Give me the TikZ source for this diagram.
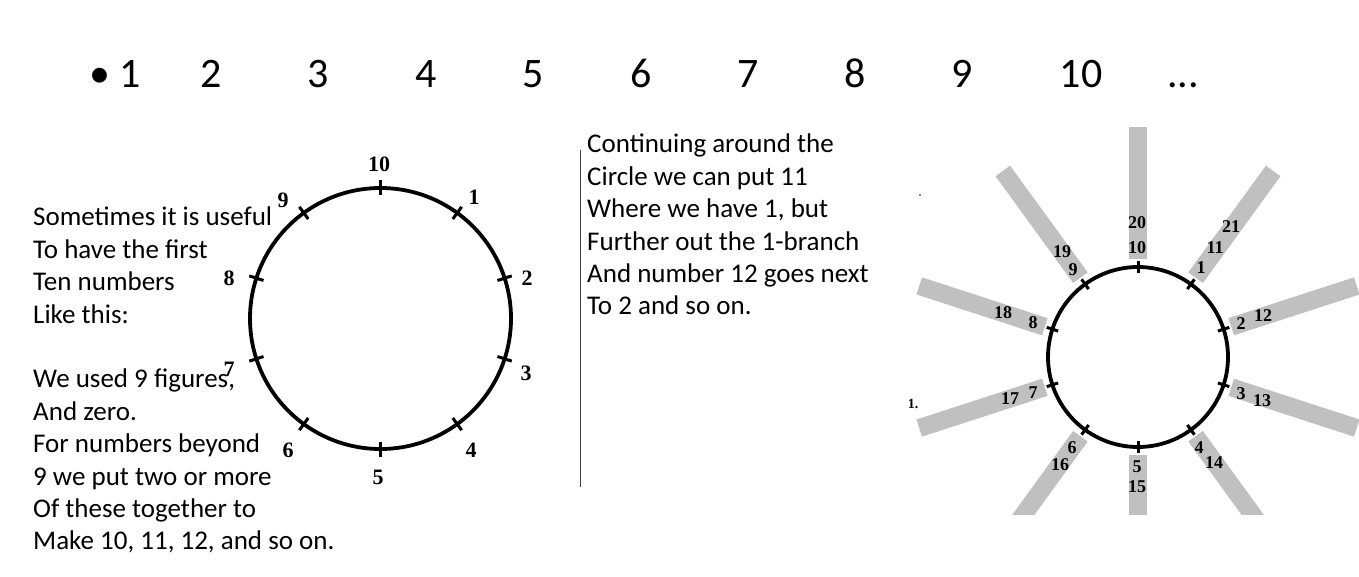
\documentclass[tikz,border=0pt]{standalone}
\usepackage{fontspec}
\usetikzlibrary{calc}
\setmainfont{Carlito}
\newfontfamily\tnr{Liberation Serif}
\begin{document}
\begin{tikzpicture}[x=1pt,y=1pt,
  bigtxt/.style={font=\fontsize{42}{50}\selectfont, anchor=base, inner sep=0pt},
  bodytxt/.style={font=\fontsize{27}{32.4}\selectfont, align=left, anchor=north west, inner sep=0pt},
  lbl/.style={font=\tnr\bfseries\fontsize{22}{24}\selectfont, inner sep=0pt},
  slbl/.style={font=\tnr\bfseries\fontsize{18}{20}\selectfont, inner sep=0pt},
  ring/.style={line width=3.8pt},
  tick/.style={line width=3pt},
  bar/.style={line width=18pt, draw={rgb,255:red,192;green,192;blue,192}}]
\useasboundingbox (0,0) rectangle (1359,-577);
\fill[white] (0,0) rectangle (1359,-577);
% top row
\node[bigtxt] (b0) at (100,-88) {•};
\foreach \n/\x in {1/130,2/211,3/318,4/426,5/533,6/641,7/748,8/855,9/962,10/1081}
  \node[bigtxt] (t\n) at (\x,-88) {\n};
\node[bigtxt] (tdots) at (1183,-88) {...};
% left text
\node[bodytxt] (lefttext) at (33,-207) {Sometimes it is useful\\To have the first\\Ten numbers\\Like this:\\[32.4pt]We used 9 figures,\\And zero.\\For numbers beyond\\9 we put two or more\\Of these together to\\Make 10, 11, 12, and so on.};
% left circle
\coordinate (L) at (380.5,-318.5);
\draw[ring] (L) circle (130.5);
\foreach \k in {0,...,9}
  \draw[tick] ($(L)+(90-36*\k:123)$) -- ($(L)+(90-36*\k:138)$);
\foreach \n/\x/\y in {10/379/164,1/474/197,2/527/278,3/526/373,4/471/450,5/378/477,6/288/450,7/229/369,8/229/278,9/283/200}
  \node[lbl] (l\n) at (\x,-\y) {\n};
% divider
\coordinate (d1) at (580.5,-150);
\coordinate (d2) at (580.5,-487);
\draw[line width=1pt, black!75] (d1) -- (d2);
% middle text
\node[bodytxt] (midtext) at (587,-134) {Continuing around the\\Circle we can put 11\\Where we have 1, but\\Further out the 1-branch\\And number 12 goes next\\To 2 and so on.};
% right figure
\coordinate (R) at (1138,-357);
\begin{scope}
  \clip (900,0) rectangle (1359,-514);
  \foreach \k in {0,...,9}
    \draw[bar] ($(R)+(90-36*\k:98)$) -- ($(R)+(90-36*\k:230)$);
\end{scope}
\draw[ring] (R) circle (90);
\foreach \k in {0,...,9}
  \draw[tick] ($(R)+(90-36*\k:84)$) -- ($(R)+(90-36*\k:96)$);
\foreach \n/\x/\y in {20/1137/223,10/1137/248,21/1231/227,11/1215/248,1/1201/268,12/1263/316,2/1241/324,3/1241/394,13/1262/401,4/1199/448,14/1214/463,5/1137/467,15/1137/487,6/1072/448,16/1060/465,7/1033/393,17/1010/399,8/1033/323,18/1003/313,9/1073/270,19/1062/252}
  \node[slbl] (r\n) at (\x,-\y) {\n};
\node[font=\tnr\bfseries\fontsize{14}{16}\selectfont, inner sep=0pt] (stray) at (913,-404) {1.};
\fill (920,-195) circle (0.8);
\end{tikzpicture}
\end{document}
